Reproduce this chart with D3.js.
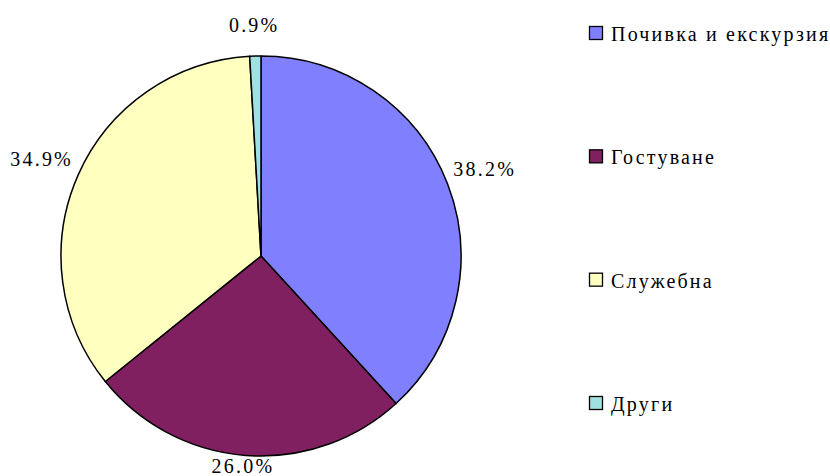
<!DOCTYPE html>
<html>
<head>
<meta charset="utf-8">
<script src="https://cdn.jsdelivr.net/npm/d3@7"></script>
</head>
<body style="margin:0">
<script>
// данни за диаграмата
const categories = ['Почивка и екскурзия', 'Гостуване', 'Служебна', 'Други'];
const shares = [38.2, 26.0, 34.9, 0.9];
const labels = ['38.2%', '26.0%', '34.9%', '0.9%'];
const colors = ['#8080FF', '#802060', '#FFFFC0', '#A0E0E0'];

const W = 830, H = 476;
const cx = 261, cy = 256, R = 200;

const svg = d3.select('body')
  .append('svg')
  .attr('width', W)
  .attr('height', H);

const pie = d3.pie().sort(null).value(d => d)(shares);
const arc = d3.arc().innerRadius(0).outerRadius(R);
const labelArc = d3.arc().innerRadius(240).outerRadius(240);

// сектори
svg.append('g')
    .attr('transform', `translate(${cx},${cy})`)
  .selectAll('path')
  .data(pie)
  .join('path')
    .attr('d', arc)
    .attr('fill', (d, i) => colors[i])
    .attr('stroke', '#000')
    .attr('stroke-width', 1.5)
    .attr('stroke-linejoin', 'round');

// етикети с проценти
svg.selectAll('text.label')
  .data(pie)
  .join('text')
    .attr('class', 'label')
    .attr('x', d => cx + labelArc.centroid(d)[0])
    .attr('y', d => Math.max(25, Math.min(466, cy + labelArc.centroid(d)[1])) + 7)
    .attr('text-anchor', 'middle')
    .attr('font-size', 20)
    .attr('letter-spacing', 2.2)
    .style('font-family', '"Liberation Serif"')
    .text((d, i) => labels[i]);

// легенда
const legendY = d3.scalePoint(categories, [35, 405]);
svg.selectAll('rect.key')
  .data(categories)
  .join('rect')
    .attr('class', 'key')
    .attr('x', 589.5)
    .attr('y', d => legendY(d) - 8.5)
    .attr('width', 13)
    .attr('height', 13)
    .attr('fill', (d, i) => colors[i])
    .attr('stroke', '#000')
    .attr('stroke-width', 1.3);
svg.selectAll('text.key')
  .data(categories)
  .join('text')
    .attr('class', 'key')
    .attr('x', 611)
    .attr('y', d => legendY(d) + 6)
    .attr('font-size', 20)
    .attr('letter-spacing', 2.2)
    .style('font-family', '"Liberation Serif"')
    .text(d => d);
</script>
</body>
</html>
